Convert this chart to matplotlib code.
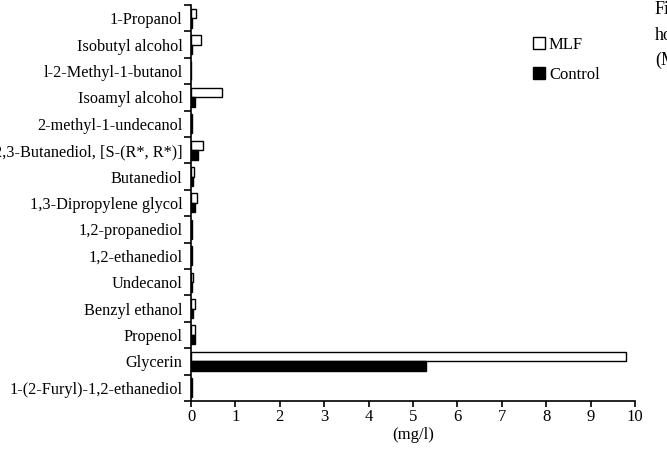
import numpy as np
import matplotlib.pyplot as plt
from matplotlib.lines import Line2D

compounds = ['1-Propanol', 'Isobutyl alcohol', 'l-2-Methyl-1-butanol', 'Isoamyl alcohol',
             '2-methyl-1-undecanol', '2,3-Butanediol, [S-(R*, R*)]', 'Butanediol',
             '1,3-Dipropylene glycol', '1,2-propanediol', '1,2-ethanediol', 'Undecanol',
             'Benzyl ethanol', 'Propenol', 'Glycerin', '1-(2-Furyl)-1,2-ethanediol']
mlf = [0.12, 0.22, 0.01, 0.69, 0.02, 0.27, 0.07, 0.13, 0.03, 0.02, 0.04, 0.09, 0.09, 9.8, 0.03]
control = [0.03, 0.02, 0.01, 0.09, 0.02, 0.15, 0.04, 0.09, 0.03, 0.02, 0.02, 0.05, 0.10, 5.3, 0.03]

plt.rcParams['font.family'] = ['Liberation Serif', 'DejaVu Serif']
fig = plt.figure(figsize=(6.67, 4.5), dpi=100)
ax = fig.add_axes([0.2864, 0.109, 0.6657, 0.88])

y = np.arange(len(compounds))[::-1]
h = 0.36
ax.barh(y + h / 2, mlf, height=h, color='white', edgecolor='black', linewidth=1)
ax.barh(y - h / 2, control, height=h, color='black', edgecolor='black', linewidth=1)

ax.set_xlim(0, 10)
ax.set_ylim(-0.5, len(compounds) - 0.5)
ax.set_xticks(range(0, 11))
ax.set_yticks(y)
ax.set_yticklabels(compounds, fontsize=11.7)
ax.set_yticks(np.arange(-0.5, len(compounds), 1), minor=True)
ax.tick_params(axis='y', which='major', length=0, pad=6)
ax.tick_params(axis='y', which='minor', length=5, width=1.2, direction='out')
ax.tick_params(axis='x', labelsize=12, length=4, width=1.2, direction='out', pad=2)
ax.set_xlabel('(mg/l)', fontsize=12, labelpad=1)
for s in ['top', 'right']:
    ax.spines[s].set_visible(False)
for s in ['left', 'bottom']:
    ax.spines[s].set_linewidth(1.2)

handles = [Line2D([], [], marker='s', ls='', markersize=9, markerfacecolor='white',
                  markeredgecolor='black'),
           Line2D([], [], marker='s', ls='', markersize=9, markerfacecolor='black',
                  markeredgecolor='black')]
fig.legend(handles, ['MLF', 'Control'], loc='upper left', bbox_to_anchor=(524 / 667, 1 - 30 / 450),
           frameon=False, fontsize=12, handletextpad=0.1, labelspacing=0.85, handlelength=1.0,
           borderaxespad=0)

for txt, yy in [('Fig', 9), ('how', 35), ('(MLF', 60)]:
    fig.text(655 / 667, 1 - yy / 450, txt, fontsize=13, va='center', ha='left')

fig.savefig('out.png', dpi=100)
